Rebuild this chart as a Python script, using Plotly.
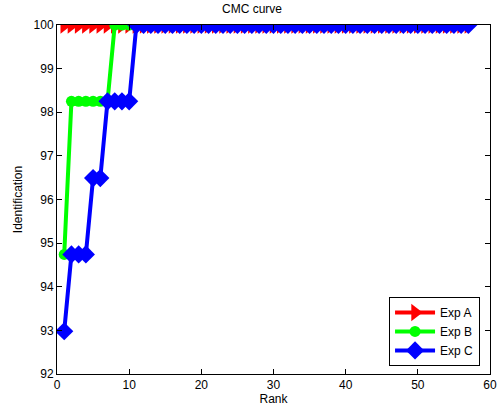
import plotly.graph_objects as go

ranks = list(range(1, 58))
exp_a = [100.0] * 57
exp_b = [94.74] + [98.25] * 6 + [100.0] * 50
exp_c = [92.98, 94.74, 94.74, 94.74, 96.49, 96.49, 98.25, 98.25, 98.25, 98.25] + [100.0] * 47

series = [
    ("Exp A", exp_a, "#ff0000", "triangle-right", 15),
    ("Exp B", exp_b, "#00ff00", "circle", 11),
    ("Exp C", exp_c, "#0000ff", "diamond", 14),
]

fig = go.Figure()
for name, vals, color, sym, size in series:
    fig.add_trace(go.Scatter(
        x=ranks, y=vals, name=name, mode="lines+markers",
        line=dict(color=color, width=4),
        marker=dict(symbol=sym, size=size, color=color, line=dict(width=0)),
    ))

axis_common = dict(
    showline=True, linecolor="black", linewidth=1, mirror="allticks",
    ticks="inside", ticklen=5, tickcolor="black", showgrid=False, zeroline=False,
    tickfont=dict(size=12, color="black"),
)
fig.update_layout(
    width=504, height=412,
    margin=dict(l=57, r=7, t=25, b=38),
    paper_bgcolor="white", plot_bgcolor="white",
    font=dict(family="Liberation Sans, Arial, sans-serif", size=12, color="black"),
    title=dict(text="CMC curve", x=0.5, xanchor="center", y=0.99, yanchor="top",
               font=dict(size=12)),
    xaxis=dict(range=[0, 60], dtick=10, title=dict(text="Rank", standoff=2, font=dict(size=12)), **axis_common),
    yaxis=dict(range=[92, 100], dtick=1, title=dict(text="Identification", standoff=8, font=dict(size=12)), **axis_common),
    legend=dict(x=0.977, y=0.023, xanchor="right", yanchor="bottom",
                bordercolor="black", borderwidth=1, bgcolor="white",
                font=dict(size=12), tracegroupgap=0, itemwidth=40),
    showlegend=True,
)
fig.write_html("out.html")
